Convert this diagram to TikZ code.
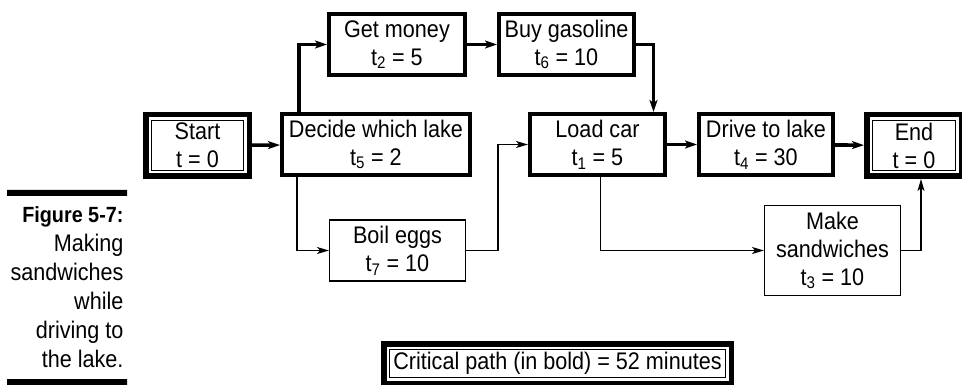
\documentclass[tikz,border=0pt]{standalone}
\usepackage{fontspec}
\setmainfont[FakeStretch=0.9]{Liberation Sans}
\usetikzlibrary{arrows.meta}
\tikzset{
	task/.style={draw, line width=4pt, align=center, inner sep=0pt, minimum height=61pt, font=\fontsize{24}{28}\selectfont},
	sidetask/.style={task, line width=1.3pt},
	endtask/.style={task, line width=5.5pt},
	crit/.style={line width=3.6pt, -{Stealth[length=12pt, width=8pt, inset=3pt]}},
	link/.style={line width=1.3pt, -{Stealth[length=12pt, width=7pt, inset=3pt]}}
}
\begin{document}
\begin{tikzpicture}[x=1pt, y=-1pt]
	\useasboundingbox (0,0) rectangle (962,385);
	\fill (7,190) rectangle (127,196) (7,379) rectangle (127,386);
	\node[anchor=base east, align=right, font=\fontsize{24}{29}\selectfont] (caption) at (127,367)
		{\textbf{\fontsize{22}{29}\selectfont Figure 5-7:}\\Making\\sandwiches\\while\\driving to\\the lake.};
	\node[endtask, minimum width=103.5pt, minimum height=61.5pt] (start) at (197.5,145.5) {Start\\t = 0};
	\node[task, minimum width=188pt] (decide) at (376,144.5) {Decide which lake\\t\textsubscript{5} = 2};
	\node[task, minimum width=136pt] (money) at (397,44.5) {Get money\\t\textsubscript{2} = 5};
	\node[task, minimum width=135pt] (gas) at (566.5,44.5) {Buy gasoline\\t\textsubscript{6} = 10};
	\node[task, minimum width=135pt] (load) at (597.5,144.5) {Load car\\t\textsubscript{1} = 5};
	\node[task, minimum width=134pt] (drive) at (766,144.5) {Drive to lake\\t\textsubscript{4} = 30};
	\node[endtask, minimum width=94.5pt, minimum height=61.5pt] (finish) at (914,145.5) {End\\t = 0};
	\node[sidetask, minimum width=135.7pt] (eggs) at (397.5,250.5) {Boil eggs\\t\textsubscript{7} = 10};
	\node[sidetask, minimum width=135.7pt, minimum height=89.7pt] (sandw) at (832.5,250.5) {Make\\sandwiches\\t\textsubscript{3} = 10};
	\node[endtask, minimum width=347.5pt, minimum height=39.5pt] (path) at (557.5,363.5) {Critical path (in bold) = 52 minutes};
	\foreach \n in {start,finish,path}
		\draw[line width=1.1pt] ([xshift=8.4pt,yshift=8.4pt]\n.south west) rectangle ([xshift=-8.4pt,yshift=-8.4pt]\n.north east);
	% critical path
	\draw[crit] (start) -- (decide);
	\draw[crit] ([xshift=19pt]decide.north west) |- (money);
	\draw[crit] (money) -- (gas);
	\draw[crit] (gas.east) -| ([xshift=56pt]load.north);
	\draw[crit] (load) -- (drive);
	\draw[crit] (drive) -- (finish);
	% slack
	\draw[link] ([xshift=17pt]decide.south west) |- (eggs);
	\draw[link] (eggs.east) -- ++(32,0) |- (load);
	\draw[link] ([xshift=3pt]load.south) |- (sandw);
	\draw[link] (sandw.east) -| ([xshift=7pt]finish.south);
\end{tikzpicture}
\end{document}
